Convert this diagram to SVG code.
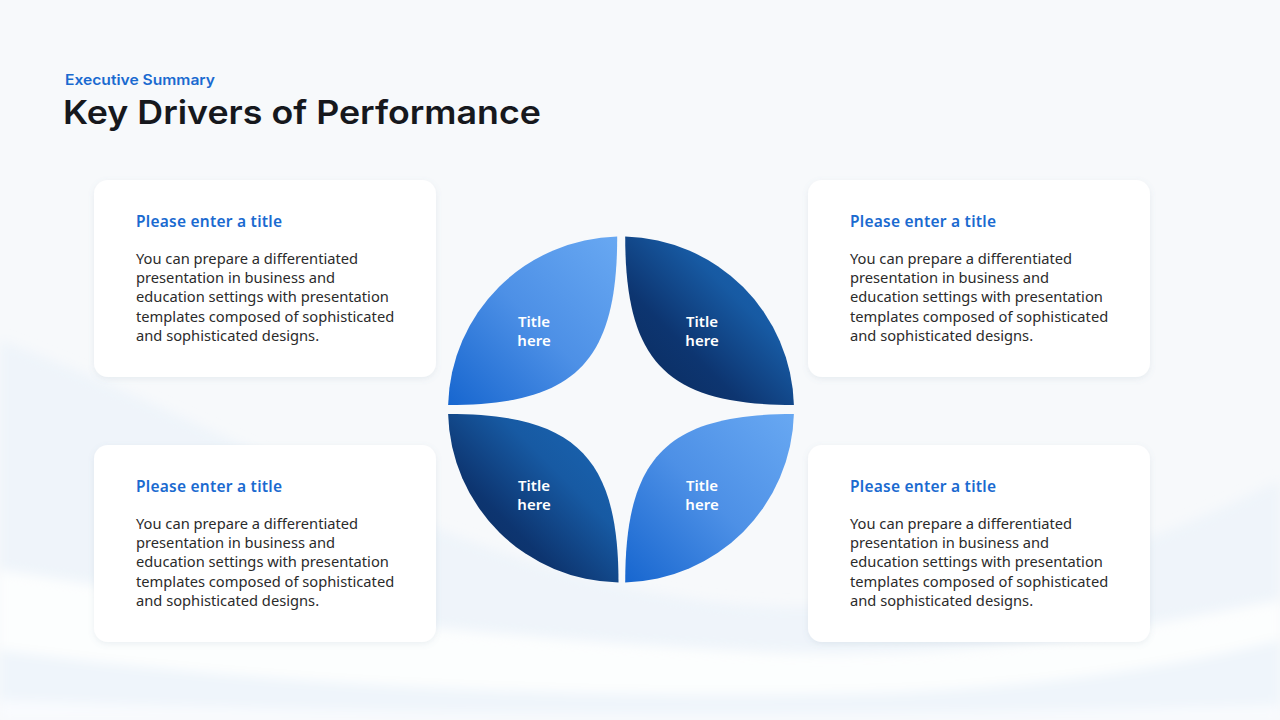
<svg xmlns="http://www.w3.org/2000/svg" width="1280" height="720" viewBox="0 0 1280 720">
  <defs>
    <linearGradient id="gLight" x1="0" y1="1" x2="1" y2="0">
      <stop offset="0" stop-color="#1766cf"/>
      <stop offset="0.5" stop-color="#4d90e6"/>
      <stop offset="1" stop-color="#68a8f2"/>
    </linearGradient>
    <linearGradient id="gDark" x1="0" y1="1" x2="1" y2="0">
      <stop offset="0" stop-color="#0a2a5c"/>
      <stop offset="0.35" stop-color="#0d3570"/>
      <stop offset="0.65" stop-color="#175aa3"/>
      <stop offset="1" stop-color="#1b67b5"/>
    </linearGradient>
    <filter id="shadow" x="-10%" y="-10%" width="120%" height="130%">
      <feDropShadow dx="0" dy="2" stdDeviation="3" flood-color="#6b7f99" flood-opacity="0.12"/>
    </filter>
    <filter id="soft" x="-5%" y="-20%" width="110%" height="140%">
      <feGaussianBlur stdDeviation="6"/>
    </filter>
    <style>
      .card { fill: #ffffff; filter: url(#shadow); }
      .ctitle { font-family: "Noto Sans", "Open Sans", sans-serif; font-size: 15.5px; font-weight: 600; fill: #1a6ad0; }
      .body { font-family: "Noto Sans", "Open Sans", sans-serif; font-size: 14.7px; fill: #2b2b2b; }
      .ptext { font-family: "Noto Sans", "Open Sans", sans-serif; font-size: 15px; font-weight: 600; fill: #ffffff; text-anchor: middle; }
    </style>
  </defs>

  <!-- background -->
  <rect width="1280" height="720" fill="#f7f9fb"/>
  <g filter="url(#soft)">
    <path d="M0 340 C 220 420, 430 560, 700 600 C 900 628, 1100 570, 1280 480 L1280 720 L0 720 Z" fill="#e9f1fa" opacity="0.6"/>
    <path d="M0 570 C 250 610, 500 640, 760 652 C 980 662, 1150 625, 1280 600 L1280 720 L0 720 Z" fill="#ffffff" opacity="0.85"/>
    <path d="M0 650 C 300 690, 650 700, 900 692 C 1080 684, 1200 660, 1280 640 L1280 720 L0 720 Z" fill="#eaf2fb" opacity="0.7"/>
    <path d="M0 700 C 400 716, 800 720, 1280 705 L1280 720 L0 720 Z" fill="#ffffff" opacity="0.6"/>
  </g>

  <!-- header -->
  <g id="header">
    <text x="65" y="84.5" font-family="Inter, 'Noto Sans', sans-serif" font-size="14.5" font-weight="600" fill="#1a6ad0" textLength="150" lengthAdjust="spacingAndGlyphs">Executive Summary</text>
    <text x="63" y="123.5" font-family="Inter, 'Noto Sans', sans-serif" font-size="33" font-weight="600" fill="#16181d" textLength="478" lengthAdjust="spacingAndGlyphs">Key Drivers of Performance</text>
  </g>

  <!-- cards -->
  <g id="card-tl">
    <rect class="card" x="94" y="180" width="342" height="197" rx="14"/>
    <text class="ctitle" x="136" y="227" textLength="146">Please enter a title</text>
    <text class="body" x="136" y="263.7">You can prepare a differentiated</text>
    <text class="body" x="136" y="283">presentation in business and</text>
    <text class="body" x="136" y="302.3">education settings with presentation</text>
    <text class="body" x="136" y="321.6">templates composed of sophisticated</text>
    <text class="body" x="136" y="341">and sophisticated designs.</text>
  </g>
  <g id="card-bl">
    <rect class="card" x="94" y="445" width="342" height="197" rx="14"/>
    <text class="ctitle" x="136" y="492" textLength="146">Please enter a title</text>
    <text class="body" x="136" y="528.7">You can prepare a differentiated</text>
    <text class="body" x="136" y="548">presentation in business and</text>
    <text class="body" x="136" y="567.3">education settings with presentation</text>
    <text class="body" x="136" y="586.6">templates composed of sophisticated</text>
    <text class="body" x="136" y="606">and sophisticated designs.</text>
  </g>
  <g id="card-tr">
    <rect class="card" x="808" y="180" width="342" height="197" rx="14"/>
    <text class="ctitle" x="850" y="227" textLength="146">Please enter a title</text>
    <text class="body" x="850" y="263.7">You can prepare a differentiated</text>
    <text class="body" x="850" y="283">presentation in business and</text>
    <text class="body" x="850" y="302.3">education settings with presentation</text>
    <text class="body" x="850" y="321.6">templates composed of sophisticated</text>
    <text class="body" x="850" y="341">and sophisticated designs.</text>
  </g>
  <g id="card-br">
    <rect class="card" x="808" y="445" width="342" height="197" rx="14"/>
    <text class="ctitle" x="850" y="492" textLength="146">Please enter a title</text>
    <text class="body" x="850" y="528.7">You can prepare a differentiated</text>
    <text class="body" x="850" y="548">presentation in business and</text>
    <text class="body" x="850" y="567.3">education settings with presentation</text>
    <text class="body" x="850" y="586.6">templates composed of sophisticated</text>
    <text class="body" x="850" y="606">and sophisticated designs.</text>
  </g>

  <!-- petals -->
  <g id="petal-tl">
    <path d="M617.2 236.6 C617.2 362.9 574.4 405 448.1 405 A173 173 0 0 1 617.2 236.6 Z" fill="url(#gLight)"/>
    <text class="ptext" x="534" y="326.7"><tspan x="534">Title</tspan><tspan x="534" dy="19">here</tspan></text>
  </g>
  <g id="petal-tr">
    <path d="M625.2 236.6 C625.2 362.9 667.6 405 793.9 405 A173 173 0 0 0 625.2 236.6 Z" fill="url(#gDark)"/>
    <text class="ptext" x="702" y="326.7"><tspan x="702">Title</tspan><tspan x="702" dy="19">here</tspan></text>
  </g>
  <g id="petal-bl">
    <path d="M618.5 582.4 C618.5 456.1 574.4 414 448.1 414 A173 173 0 0 0 618.5 582.4 Z" fill="url(#gDark)"/>
    <text class="ptext" x="534" y="491"><tspan x="534">Title</tspan><tspan x="534" dy="19">here</tspan></text>
  </g>
  <g id="petal-br">
    <path d="M625.2 582.4 C625.2 456.1 667.6 414 793.9 414 A173 173 0 0 1 625.2 582.4 Z" fill="url(#gLight)"/>
    <text class="ptext" x="702" y="491"><tspan x="702">Title</tspan><tspan x="702" dy="19">here</tspan></text>
  </g>

  <g id="connectors"></g>
</svg>
